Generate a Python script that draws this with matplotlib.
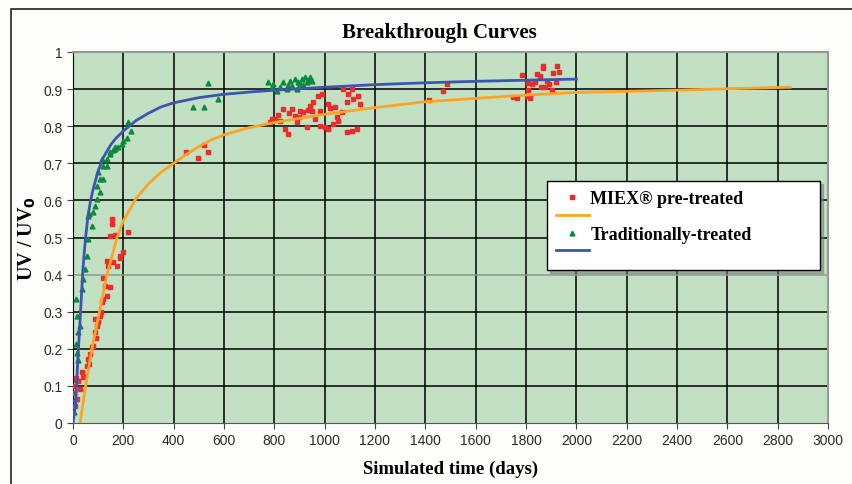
import numpy as np
import matplotlib.pyplot as plt
from matplotlib.lines import Line2D

# fitted curves
trad_t = [0, 10, 20, 30, 40, 50, 60, 70, 80, 100, 120, 150, 170, 200, 250, 300,
          350, 400, 500, 600, 700, 800, 1000, 1200, 1400, 1600, 1800, 2000]
trad_y = [0, 0.05, 0.18, 0.30, 0.42, 0.50, 0.56, 0.60, 0.63, 0.68, 0.715, 0.75,
          0.767, 0.787, 0.815, 0.835, 0.852, 0.863, 0.877, 0.886, 0.892, 0.897,
          0.905, 0.912, 0.917, 0.921, 0.924, 0.927]

miex_t = [28, 50, 75, 105, 135, 175, 200, 250, 300, 350, 400, 450, 500, 550,
          600, 700, 800, 1000, 1200, 1400, 1600, 1800, 2000, 2200, 2400, 2600, 2850]
miex_y = [0, 0.1, 0.2, 0.3, 0.4, 0.5, 0.545, 0.605, 0.645, 0.676, 0.70, 0.724,
          0.745, 0.763, 0.777, 0.796, 0.81, 0.832, 0.85, 0.866, 0.875, 0.884,
          0.891, 0.894, 0.897, 0.901, 0.905]

# measured points, MIEX pre-treated (red)
miex_pt_t = [3, 5, 8, 15, 28, 20, 35, 54, 60, 68, 74, 80, 87, 94, 100, 87, 107,
             114, 120, 134, 127, 147, 120, 140, 160, 173, 187, 200, 134, 185,
             147, 167, 218, 154, 154, 10, 40, 62, 90, 110,
             449, 497, 520, 536,
             783, 803, 822, 836, 842, 855, 869, 882, 889, 902, 915, 928, 942, 948,
             955, 961, 975, 981, 988, 981, 1001, 1014, 1014, 1034, 1041, 1048,
             1054, 1068, 1074, 1087, 1094, 1107, 1114, 1134, 1140, 1087, 1107,
             1127, 790, 815, 860, 900, 935, 1020,
             1485, 1469, 1416, 1783, 1749, 1763, 1802, 1816, 1809, 1822, 1806,
             1836, 1842, 1855, 1866, 1868, 1859, 1875, 1882, 1892, 1906, 1902,
             1919, 1924, 1932]
miex_pt_y = [0.08, 0.10, 0.046, 0.065, 0.092, 0.113, 0.137, 0.154, 0.172, 0.186,
             0.205, 0.208, 0.245, 0.262, 0.272, 0.28, 0.289, 0.326, 0.334, 0.343,
             0.37, 0.366, 0.39, 0.424, 0.434, 0.424, 0.446, 0.46, 0.437, 0.45,
             0.505, 0.508, 0.515, 0.536, 0.55, 0.12, 0.125, 0.16, 0.23, 0.30,
             0.731, 0.714, 0.749, 0.731,
             0.81, 0.819, 0.815, 0.846, 0.792, 0.779, 0.846, 0.828, 0.81, 0.842,
             0.837, 0.797, 0.855, 0.84, 0.864, 0.819, 0.882, 0.842, 0.887, 0.801,
             0.797, 0.792, 0.86, 0.806, 0.851, 0.824, 0.815, 0.837, 0.90, 0.864,
             0.887, 0.90, 0.873, 0.882, 0.86, 0.784, 0.788, 0.792, 0.82, 0.83,
             0.835, 0.825, 0.845, 0.85,
             0.914, 0.894, 0.871, 0.938, 0.878, 0.875, 0.881, 0.875, 0.916, 0.914,
             0.898, 0.918, 0.941, 0.936, 0.956, 0.961, 0.905, 0.907, 0.923, 0.914,
             0.943, 0.898, 0.918, 0.961, 0.947]

# measured points, traditionally treated (green)
trad_pt_t = [8, 12, 15, 12, 21, 15, 12, 28, 41, 48, 54, 61, 74, 61, 81, 94, 94,
             107, 101, 120, 114, 134, 147, 167, 220, 229, 213, 193, 167, 147, 134,
             120, 107, 87, 65, 5, 18, 35, 160, 180, 200,
             538, 476, 520, 577,
             776, 796, 809, 822, 836, 849, 862, 869, 882, 889, 902, 909, 922, 928,
             942, 948, 790, 855, 895, 915, 935]
trad_pt_y = [0.065, 0.119, 0.19, 0.213, 0.245, 0.289, 0.334, 0.262, 0.388, 0.415,
             0.451, 0.496, 0.532, 0.559, 0.568, 0.604, 0.64, 0.658, 0.676, 0.694,
             0.712, 0.712, 0.73, 0.743, 0.812, 0.788, 0.767, 0.752, 0.739, 0.725,
             0.694, 0.658, 0.622, 0.586, 0.563, 0.03, 0.17, 0.36, 0.735, 0.745,
             0.76,
             0.916, 0.851, 0.851, 0.873,
             0.918, 0.914, 0.896, 0.905, 0.918, 0.90, 0.923, 0.909, 0.927, 0.90,
             0.914, 0.927, 0.932, 0.918, 0.932, 0.923, 0.905, 0.912, 0.92, 0.91,
             0.925]

x_ticks = np.arange(0, 3001, 200)
y_ticks = np.round(np.arange(0, 1.01, 0.1), 1)

serif = ['Liberation Serif', 'DejaVu Serif']
sans = ['Liberation Sans', 'DejaVu Sans']

fig = plt.figure(figsize=(8.52, 4.85), dpi=100)
fig.patch.set_facecolor('#fdfdfb')
ax = fig.add_axes([73 / 852, 1 - 424 / 485, 755 / 852, 371 / 485])
ax.set_facecolor('#c2e1c2')

# grid
for xv in x_ticks[1:]:
    ax.axvline(xv, color='black', lw=1.1, zorder=1)
for yv in y_ticks[1:]:
    c = '#8a9a8a' if abs(yv - 0.4) < 1e-6 else 'black'
    ax.axhline(yv, color=c, lw=1.1, zorder=1)

ax.plot(trad_pt_t, trad_pt_y, linestyle='none', marker='^', ms=3.5,
        color='#0b8a3c', zorder=3)
ax.plot(miex_pt_t, miex_pt_y, linestyle='none', marker='s', ms=2.8,
        color='#ee2b2b', zorder=3)
ax.plot(trad_t, trad_y, color='#3d55b0', lw=2, zorder=4)
ax.plot(miex_t, miex_y, color='#ffa324', lw=2, zorder=4)

ax.set_xlim(0, 3000)
ax.set_ylim(0, 1)
ax.set_xticks(x_ticks)
ax.set_yticks(y_ticks)
ax.set_yticklabels(['0'] + [f'{v:g}' for v in y_ticks[1:]])
ax.tick_params(direction='out', length=4, width=0.8, colors='#444444',
               labelcolor='#2a2a2a', labelsize=10)
for lab in ax.get_xticklabels() + ax.get_yticklabels():
    lab.set_family(sans)

for s in ['top', 'right']:
    ax.spines[s].set_color('#999999')
    ax.spines[s].set_linewidth(1.5)
ax.spines['left'].set_color('black')
ax.spines['bottom'].set_color('#555555')

ax.set_title('Breakthrough Curves', family=serif, fontweight='bold',
             fontsize=15, pad=11, x=0.485)
ax.set_xlabel('Simulated time (days)', family=serif, fontweight='bold',
              fontsize=13.5, labelpad=9)
ax.set_ylabel('UV / UV$_\\mathbf{0}$', family=serif, fontweight='bold',
              fontsize=14.5, labelpad=4)

handles = [Line2D([], [], ls='none', marker='s', ms=2.8, color='#ee2b2b'),
           Line2D([], [], color='#ffa324', lw=2),
           Line2D([], [], ls='none', marker='^', ms=3.5, color='#0b8a3c'),
           Line2D([], [], color='#3d55b0', lw=2)]
labels = ['MIEX® pre-treated', ' ', 'Traditionally-treated', ' ']
leg = ax.legend(handles, labels, loc='upper left', mode='expand',
                bbox_to_anchor=((547 - 73) / 755, (424 - 267) / 371,
                                (820 - 547) / 755, (267 - 182) / 371),
                prop={'family': serif, 'weight': 'bold', 'size': 13},
                frameon=True, fancybox=False, shadow={'color': '#777777'},
                edgecolor='black', facecolor='white', framealpha=1,
                handlelength=1.8, handletextpad=0.1, labelspacing=0.05,
                borderpad=0.5, borderaxespad=0)
leg.get_frame().set_linewidth(1.0)
leg.set_zorder(6)

# outer chart border
fig.add_artist(Line2D([11 / 852, 11 / 852, 1.0], [0, 1 - 10 / 485, 1 - 10 / 485],
                      color='#333333', lw=1.3, transform=fig.transFigure))

fig.savefig('out.png', dpi=100, facecolor=fig.get_facecolor())
